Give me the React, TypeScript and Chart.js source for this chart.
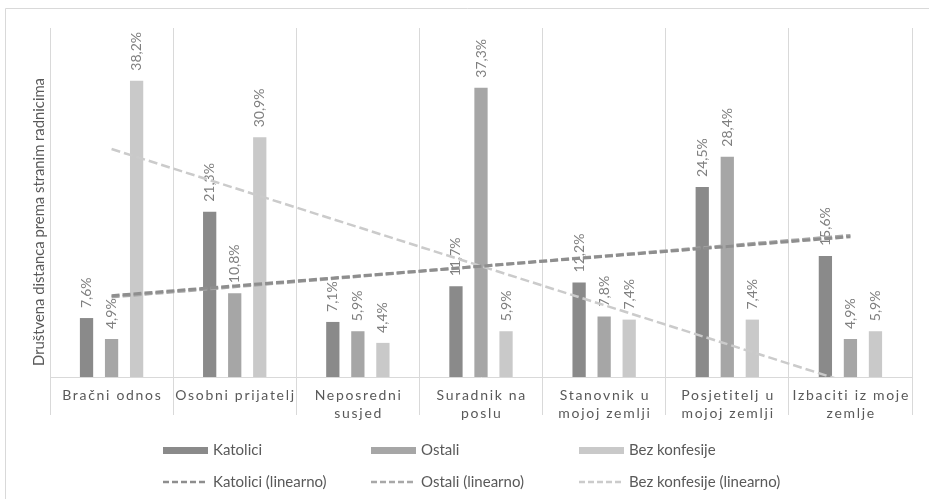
import React, { useEffect, useRef } from "react";
import { Chart, registerables } from "chart.js";

Chart.register(...registerables);

const categories: string[][] = [
  ["Bračni odnos"],
  ["Osobni prijatelj"],
  ["Neposredni", "susjed"],
  ["Suradnik na", "poslu"],
  ["Stanovnik u", "mojoj zemlji"],
  ["Posjetitelj u", "mojoj zemlji"],
  ["Izbaciti iz moje", "zemlje"],
];
const katolici = [7.6, 21.3, 7.1, 11.7, 12.2, 24.5, 15.6];
const ostali = [4.9, 10.8, 5.9, 37.3, 7.8, 28.4, 4.9];
const bezKonfesije = [38.2, 30.9, 4.4, 5.9, 7.4, 7.4, 5.9];
const seriesNames = ["Katolici", "Ostali", "Bez konfesije"];
const trendSuffix = " (linearno)";
const yAxisTitle = "Društvena distanca prema stranim radnicima";

const FONT = "Lato, 'Open Sans', sans-serif";
const barColors = ["#8a8a8a", "#a6a6a6", "#c9c9c9"];
const trendColors = ["#8e8e8e", "#a8a8a8", "#cbcbcb"];
const trendWidths = [3, 3, 2.5];
const trendDashes = [[8, 3], [8, 3], [9, 4]];

// Excel-style linear (least squares) trendline over x = 1..n
function linearTrend(values: number[]): number[] {
  const n = values.length;
  const xs = values.map((_, i) => i + 1);
  const mx = xs.reduce((a, b) => a + b, 0) / n;
  const my = values.reduce((a, b) => a + b, 0) / n;
  let num = 0;
  let den = 0;
  for (let i = 0; i < n; i++) {
    num += (xs[i] - mx) * (values[i] - my);
    den += (xs[i] - mx) * (xs[i] - mx);
  }
  const slope = num / den;
  const intercept = my - slope * mx;
  return xs.map((x) => intercept + slope * x);
}

const fmt = (v: number) => v.toFixed(1).replace(".", ",") + "%";

const decorPlugin = {
  id: "decor",
  beforeDraw(chart: any) {
    const ctx = chart.ctx;
    ctx.save();
    ctx.strokeStyle = "#d9d9d9";
    ctx.lineWidth = 1;
    ctx.beginPath();
    ctx.moveTo(5.5, chart.height + 5);
    ctx.lineTo(5.5, 8.5);
    ctx.lineTo(chart.width + 5, 8.5);
    ctx.stroke();
    ctx.restore();
  },
  afterDatasetDraw(chart: any, args: any) {
    const ds = chart.data.datasets[args.index];
    if (ds.type !== "bar") return;
    const ctx = chart.ctx;
    const meta = args.meta;
    ctx.save();
    ctx.font = `14px ${FONT}`;
    ctx.fillStyle = "#7f7f7f";
    ctx.textAlign = "left";
    ctx.textBaseline = "middle";
    meta.data.forEach((el: any, i: number) => {
      ctx.save();
      ctx.translate(el.x, el.y - 10);
      ctx.rotate(-Math.PI / 2);
      ctx.fillText(fmt(ds.data[i]), 0, 0);
      ctx.restore();
    });
    ctx.restore();
  },
  afterDraw(chart: any) {
    const ctx = chart.ctx;
    const xScale = chart.scales.x;
    const area = chart.chartArea;
    ctx.save();
    // category labels
    ctx.font = `14px ${FONT}`;
    ctx.fillStyle = "#595959";
    ctx.textAlign = "center";
    ctx.textBaseline = "middle";
    (ctx as any).letterSpacing = "1.7px";
    categories.forEach((lines, i) => {
      const x = xScale.getPixelForTick(i) + 0.8;
      lines.forEach((line, j) => {
        ctx.fillText(line, x, area.bottom + 18 + j * 18);
      });
    });
    (ctx as any).letterSpacing = "0px";
    // y axis title
    ctx.save();
    ctx.font = `14.8px ${FONT}`;
    ctx.fillStyle = "#595959";
    ctx.translate(39, 222);
    ctx.rotate(-Math.PI / 2);
    ctx.fillText(yAxisTitle, 0, 0);
    ctx.restore();
    // legend
    const cols = [163, 371, 579];
    const rows = [450.5, 482];
    ctx.font = `15px ${FONT}`;
    ctx.textAlign = "left";
    ctx.textBaseline = "middle";
    seriesNames.forEach((name, i) => {
      ctx.fillStyle = barColors[i];
      ctx.fillRect(cols[i], rows[0] - 3.5, 45, 7);
      ctx.fillStyle = "#595959";
      ctx.fillText(name, cols[i] + 50, rows[0]);
      ctx.save();
      ctx.strokeStyle = trendColors[i];
      ctx.lineWidth = 2.5;
      ctx.setLineDash([6, 3]);
      ctx.beginPath();
      ctx.moveTo(cols[i], rows[1]);
      ctx.lineTo(cols[i] + 45, rows[1]);
      ctx.stroke();
      ctx.restore();
      ctx.fillText(name + trendSuffix, cols[i] + 50, rows[1]);
    });
    ctx.restore();
  },
};

export default function App() {
  const ref = useRef<HTMLCanvasElement | null>(null);
  useEffect(() => {
    if (!ref.current) return;
    const seriesValues = [katolici, ostali, bezKonfesije];
    const barSets = seriesValues.map((vals, i) => ({
      type: "bar" as const,
      label: seriesNames[i],
      data: vals,
      backgroundColor: barColors[i],
      categoryPercentage: 0.61,
      barPercentage: 0.53,
      order: 2,
    }));
    const lineSets = seriesValues.map((vals, i) => ({
      type: "line" as const,
      label: seriesNames[i] + trendSuffix,
      data: linearTrend(vals),
      borderColor: trendColors[i],
      borderWidth: trendWidths[i],
      borderDash: trendDashes[i],
      pointRadius: 0,
      fill: false,
      tension: 0,
      order: 1,
    }));
    const chart = new Chart(ref.current, {
      type: "bar",
      data: {
        labels: categories.map((c) => c.join(" ")),
        datasets: [...barSets, ...lineSets] as any,
      },
      plugins: [decorPlugin],
      options: {
        animation: false,
        responsive: true,
        maintainAspectRatio: false,
        layout: { padding: { left: 50, right: 17, top: 28, bottom: 84 } },
        plugins: {
          legend: { display: false },
          tooltip: { enabled: false },
        },
        scales: {
          x: {
            offset: true,
            grid: {
              offset: true,
              color: "#d9d9d9",
              lineWidth: 1,
              tickLength: 38,
              drawTicks: true,
            },
            border: { color: "#d9d9d9", width: 1 },
            ticks: { display: false },
          },
          y: {
            display: false,
            min: 0,
            max: 45,
          },
        },
      },
    });
    return () => chart.destroy();
  }, []);
  return (
    <div style={{ position: "absolute", left: 0, top: 0, width: 929, height: 499 }}>
      <canvas ref={ref} />
    </div>
  );
}
